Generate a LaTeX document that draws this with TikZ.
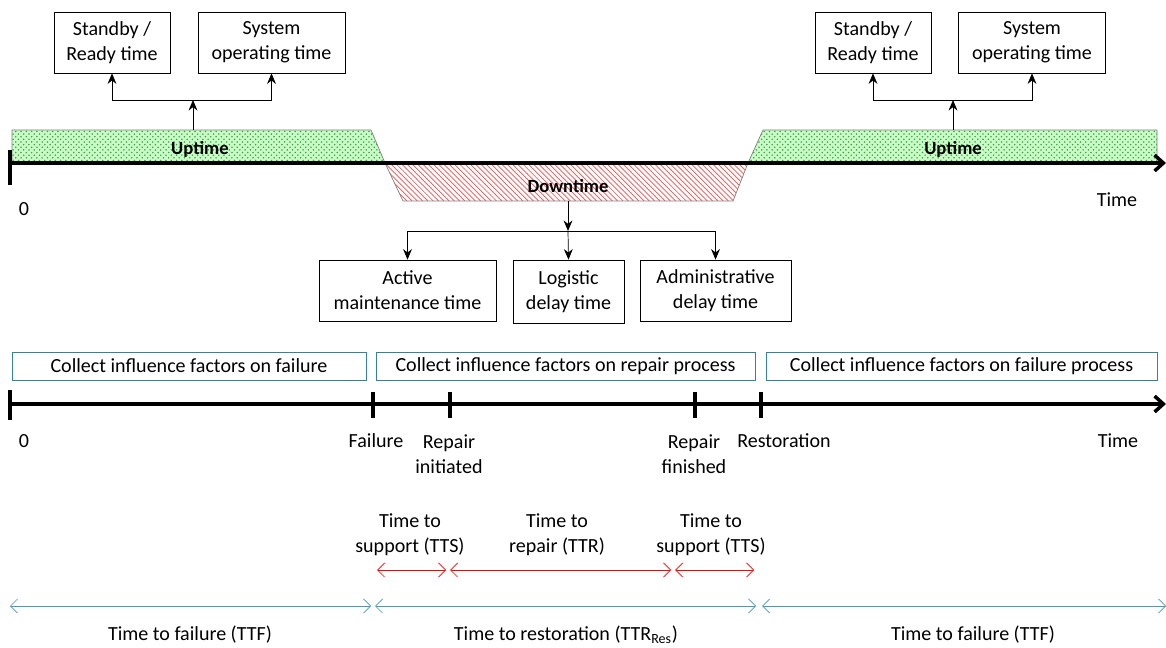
\documentclass[tikz,border=0pt]{standalone}
\usepackage{fontspec}
\setmainfont{Carlito}
\usepackage{xcolor}
\usetikzlibrary{positioning,arrows.meta,patterns}
\definecolor{tealline}{RGB}{49,133,155}
\definecolor{spanblue}{RGB}{70,155,185}

\begin{document}
\begin{tikzpicture}[x=0.02cm, y=-0.02cm,
  every node/.style={font=\fontsize{11.4}{14.2}\selectfont, align=center, inner sep=1pt},
  tbox/.style={draw, thin, minimum height=1.22cm},
  cbox/.style={draw=tealline, thin, minimum height=0.56cm},
  bold/.style={font=\fontsize{10.6}{12}\selectfont\bfseries},
  axis/.style={line width=2pt, -{Straight Barb[length=5pt,width=9pt]}},
  tick/.style={line width=2pt},
  tree/.style={thin, -{Stealth[length=6pt,width=5pt]}},
  redspan/.style={red, thin, {Straight Barb[length=4pt,width=8pt]}-{Straight Barb[length=4pt,width=8pt]}},
  bluespan/.style={spanblue, thin, {Straight Barb[length=4pt,width=8pt]}-{Straight Barb[length=4pt,width=8pt]}},
  upfill/.style={draw=gray, preaction={fill=green!22}, pattern=crosshatch dots, pattern color=green!45!black!70},
  downfill/.style={draw=gray, pattern=north west lines, pattern color=red!70}]
  \useasboundingbox (0,0) rectangle (1166,648);

  % upper timeline: up and down states
  \path[upfill] (12,130) -- (371,130) -- (385,163) -- (12,163) -- cycle;
  \path[upfill] (748,163) -- (763,130) -- (1157,130) -- (1157,163) -- cycle;
  \path[downfill] (385,163) -- (403,201) -- (733,201) -- (748,163) -- cycle;
  \coordinate (t0) at (10,163);
  \coordinate (tend) at (1166,163);
  \draw[axis] (t0) -- (tend);
  \draw[tick] (10,150) -- (10,185);
  \node (zeroA) at (24,209) {0};
  \node (timeA) at (1117,200) {Time};
  \node[bold] (upL) at (200,149) {Uptime};
  \node[bold] (upR) at (953,149) {Uptime};
  \node[bold] (down) at (568,186) {Downtime};

  % uptime breakdown
  \node[tbox, minimum width=2.32cm] (sbyL) at (112,42.5) {Standby /\\Ready time};
  \node[tbox, minimum width=2.94cm] (sysL) at (271.5,42.5) {System\\operating time};
  \node[tbox, minimum width=2.32cm] (sbyR) at (873,42.5) {Standby /\\Ready time};
  \node[tbox, minimum width=2.94cm] (sysR) at (1032,42.5) {System\\operating time};
  \coordinate (upLtop) at (193,130);
  \coordinate (jL) at (193,100);
  \coordinate (upRtop) at (953,130);
  \coordinate (jR) at (953,100);
  \draw[tree] (upLtop) -- (jL);
  \draw[tree] (jL) -| (sbyL.south);
  \draw[tree] (jL) -| (sysL.south);
  \draw[tree] (upRtop) -- (jR);
  \draw[tree] (jR) -| (sbyR.south);
  \draw[tree] (jR) -| (sysR.south);

  % downtime breakdown
  \node[tbox, minimum width=3.54cm] (amt) at (407.5,290.5) {Active\\maintenance time};
  \node[tbox, minimum width=2.22cm, minimum height=1.26cm] (ldt) at (568.5,291.5) {Logistic\\delay time};
  \node[tbox, minimum width=3.02cm] (adt) at (715.5,290.5) {Administrative\\delay time};
  \coordinate (downbot) at (568,201);
  \coordinate (jD) at (568,231);
  \draw[tree] (downbot) -- (jD);
  \draw[tree] (jD) -| (amt.north);
  \draw[tree] (jD) -- (ldt.north);
  \draw[tree] (jD) -| (adt.north);

  % lower timeline: events
  \node[cbox, minimum width=7.08cm] (cf1) at (189,366) {Collect influence factors on failure};
  \node[cbox, minimum width=7.58cm] (cf2) at (565.5,366) {Collect influence factors on repair process};
  \node[cbox, minimum width=7.82cm] (cf3) at (961.5,366) {Collect influence factors on failure process};
  \coordinate (s0) at (10,404);
  \coordinate (send) at (1166,404);
  \draw[axis] (s0) -- (send);
  \draw[tick] (10,390) -- (10,420);
  \foreach \x in {373,450,695,761}
    \draw[tick] (\x,392) -- (\x,418);
  \node (zeroB) at (24,441) {0};
  \node (fail) at (376,441) {Failure};
  \node (rinit) at (449,454) {Repair\\initiated};
  \node (rfin) at (694,454) {Repair\\finished};
  \node (rest) at (784,441) {Restoration};
  \node (timeB) at (1118,441) {Time};

  % durations
  \node (tts1) at (410,535) {Time to\\support (TTS)};
  \node (ttr) at (557,535) {Time to\\repair (TTR)};
  \node (tts2) at (711,535) {Time to\\support (TTS)};
  \coordinate (r1) at (377,570);
  \coordinate (r2) at (446,570);
  \coordinate (r3) at (450,570);
  \coordinate (r4) at (671,570);
  \coordinate (r5) at (675,570);
  \coordinate (r6) at (754,570);
  \draw[redspan] (r1) -- (r2);
  \draw[redspan] (r3) -- (r4);
  \draw[redspan] (r5) -- (r6);

  \coordinate (b1) at (10,606);
  \coordinate (b2) at (371,606);
  \coordinate (b3) at (375,606);
  \coordinate (b4) at (756,606);
  \coordinate (b5) at (762,606);
  \coordinate (b6) at (1166,606);
  \draw[bluespan] (b1) -- (b2);
  \draw[bluespan] (b3) -- (b4);
  \draw[bluespan] (b5) -- (b6);
  \node (ttf1) at (190,635) {Time to failure (TTF)};
  \node (ttres) at (566,635) {Time to restoration (TTR\textsubscript{Res})};
  \node (ttf2) at (973,635) {Time to failure (TTF)};
\end{tikzpicture}
\end{document}
